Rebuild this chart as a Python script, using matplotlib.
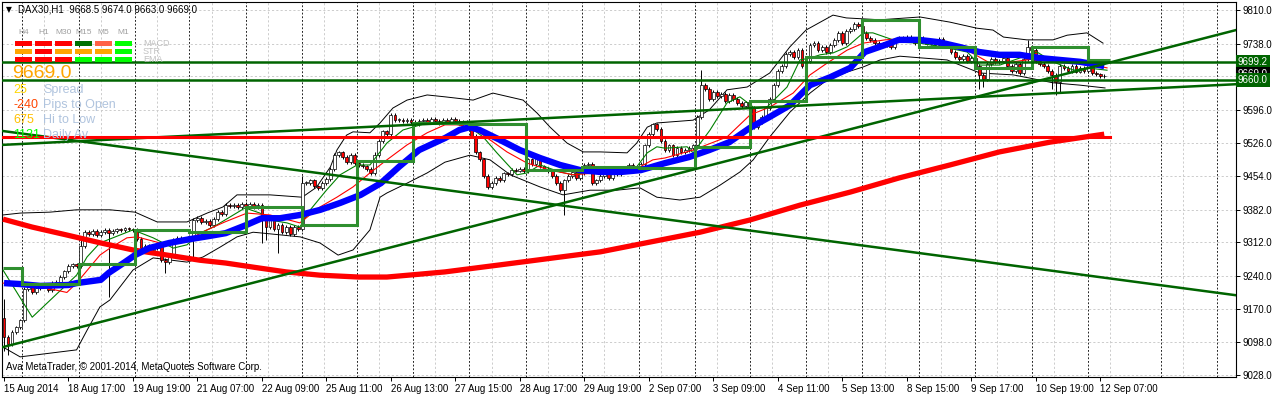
import matplotlib.pyplot as plt
from matplotlib.patches import Rectangle
from matplotlib.transforms import blended_transform_factory

plt.rcParams['font.family'] = ['Liberation Sans', 'DejaVu Sans']

# ---- H1 closes (bar 0 = 15 Aug 2014) ----
closes = [
    9110, 9095, 9120, 9130, 9145,
    9212, 9220, 9205, 9215, 9222, 9218, 9210, 9225,
    9228, 9238, 9250, 9262, 9265, 9262,
    9305, 9335,
    9330, 9336, 9328, 9334, 9338, 9332, 9336, 9340, 9338, 9342, 9340, 9338,
    9320, 9300, 9305, 9295, 9300, 9310, 9275, 9270, 9285, 9318,
    9322, 9320, 9318, 9325, 9360, 9365, 9355, 9358, 9350, 9362,
    9378, 9372, 9392, 9390, 9392, 9388, 9395, 9390, 9395, 9388, 9392,
    9365, 9345, 9360, 9340, 9350, 9335, 9345, 9330, 9345, 9340,
    9440, 9440, 9445, 9432, 9428, 9440, 9448,
    9470, 9500, 9505, 9495, 9485, 9500, 9482, 9478, 9475, 9470, 9460,
    9500, 9530, 9550, 9545, 9585, 9575, 9575,
    9572, 9575, 9570, 9566, 9572,
    9574, 9570, 9576, 9572, 9568, 9574, 9570, 9576, 9572, 9568, 9570, 9566,
    9540, 9505, 9490, 9455, 9430, 9440,
    9450, 9445, 9460, 9458, 9468, 9466, 9470, 9465,
    9490, 9480, 9495, 9475, 9470, 9465, 9455, 9440, 9425, 9445,
    9455, 9462, 9450, 9460, 9478, 9480, 9440, 9445,
    9455, 9460, 9450, 9462, 9458, 9465, 9470, 9478, 9468, 9475, 9480,
    9520, 9545, 9565, 9555, 9530, 9510, 9520, 9500, 9515,
    9505, 9510, 9515, 9520, 9580, 9650,
    9640, 9620, 9635, 9625, 9630, 9615, 9628, 9620,
    9610, 9605, 9612, 9600, 9560, 9570, 9580, 9600, 9620,
    9650, 9680, 9690, 9715, 9720, 9710, 9725, 9690, 9700,
    9735, 9740, 9725, 9730, 9720, 9735, 9745, 9760, 9740,
    9765, 9770, 9780, 9775, 9760, 9750, 9745,
    9740, 9738, 9735, 9740, 9730, 9745, 9750,
    9748, 9752, 9745, 9740, 9750,
    9745, 9738, 9742, 9735, 9748, 9740, 9736, 9720,
    9710, 9705, 9712, 9700, 9708, 9690, 9670, 9662,
    9695, 9705, 9698, 9700, 9708, 9690, 9680, 9695, 9675, 9705,
    9730, 9725, 9700, 9695, 9690, 9680, 9670, 9655, 9690,
    9685, 9680, 9690, 9678, 9685, 9680, 9700,
    9675, 9672, 9668.5, 9669,
]
first_open = 9150
wick_high = {0: 9190, 19: 9318, 74: 9455, 92: 9505, 173: 9682, 254: 9745}
wick_low = {0: 9080, 1: 9070, 26: 9195, 40: 9247, 47: 9280, 64: 9311,
            65: 9318, 68: 9290, 139: 9370, 172: 9512, 242: 9640, 243: 9645,
            260: 9640, 261: 9628, 262: 9635}
WICK = 4

# indicator lines, sampled as (bar, price)
blue_x = [0, 4, 9, 16, 18, 24, 26, 30, 32.5, 36, 41, 46, 51, 55, 60, 64, 68.5, 73.5, 78.5, 83.5,
          88.5, 93.5, 98, 103, 109.5, 113, 115.5, 118, 123, 128, 133, 138, 143, 148, 153, 158,
          164, 170, 175, 180, 185, 190, 195, 200, 205, 210, 213.6, 218.6, 222, 227, 232, 237,
          242, 247, 252, 257, 262, 267, 273]
blue_y = [9225, 9223, 9219, 9221, 9225, 9232, 9247, 9270, 9285, 9300, 9311, 9319, 9326, 9332,
          9349, 9364, 9364, 9371, 9382, 9397, 9414, 9439, 9474, 9510, 9536, 9553, 9559, 9553,
          9532, 9510, 9493, 9478, 9467, 9463, 9463, 9467, 9482, 9495, 9510, 9527, 9557, 9581,
          9606, 9649, 9666, 9686, 9720, 9735, 9746, 9746, 9741, 9731, 9720, 9714, 9714, 9707,
          9703, 9699, 9690]

red_x = [-0.25, 7, 15.6, 24, 32, 40.5, 48.6, 55, 62, 70, 78.4, 88, 95, 103, 109.4, 123, 148,
         172.7, 185, 197.5, 210, 222, 234.7, 247, 259.6, 273]
red_y = [9362, 9345, 9328, 9311, 9296, 9285, 9274, 9268, 9259, 9249, 9242, 9238, 9238, 9244,
         9249, 9264, 9292, 9334, 9360, 9392, 9420, 9450, 9478, 9506, 9527, 9544]

bbu_x = [-0.25, 4, 11.4, 18, 26.3, 32.5, 38, 45.4, 50.4, 54.3, 57.8, 66, 74, 77.5, 81, 82.6, 85,
         86.6, 90.8, 93.3, 96.5, 100, 105, 109.4, 116.4, 121.3, 128.8, 132.3, 135.5, 139.7,
         143.7, 148, 154.6, 157, 159.6, 162, 171, 175, 179.4, 184.4, 190, 195, 199, 205.7, 209,
         217.4, 227.3, 234.7, 241.4, 245.4, 248, 253.8, 260.3, 263.8, 268.7, 272.7]
bbu_y = [9371, 9375, 9377, 9382, 9382, 9377, 9356, 9356, 9375, 9388, 9414, 9414, 9409, 9430,
         9474, 9510, 9542, 9549, 9547, 9568, 9600, 9617, 9628, 9624, 9617, 9632, 9617, 9589,
         9559, 9525, 9506, 9506, 9504, 9525, 9559, 9568, 9574, 9596, 9639, 9645, 9675, 9731,
         9767, 9799, 9793, 9789, 9795, 9784, 9771, 9767, 9752, 9746, 9746, 9756, 9761, 9739]

bbl_x = [-0.25, 4, 18, 20.6, 23.8, 26.3, 32, 37, 45.4, 49.4, 53.6, 57.8, 61.8, 64.3, 73.5, 78.4,
         82.9, 86.6, 90.8, 93.3, 95, 100, 105, 109.4, 115.6, 120.6, 125.6, 133, 138.7, 145.4,
         152, 157.8, 162, 167.7, 172.7, 177.7, 182.6, 185.9, 190, 195, 200, 204.2, 209.2, 213.2,
         217.4, 222.3, 234, 242.2, 250.4, 254.6, 260.3, 267, 273.2]
bbl_y = [9088, 9067, 9082, 9124, 9174, 9189, 9253, 9279, 9270, 9281, 9302, 9324, 9334, 9332,
         9324, 9311, 9285, 9296, 9339, 9409, 9418, 9439, 9461, 9484, 9499, 9489, 9457, 9431,
         9414, 9424, 9424, 9429, 9409, 9403, 9409, 9435, 9463, 9489, 9538, 9591, 9632, 9660,
         9677, 9688, 9703, 9711, 9703, 9675, 9671, 9664, 9654, 9649, 9643]

tg_x = [-0.25, 7, 18, 20.6, 23.8, 32, 37, 42, 45.4, 48.6, 51.9, 54.8, 59.8, 63.5, 66, 70.2, 73.4,
        76, 80, 83.4, 87.6, 90.8, 95, 99, 105, 109.4, 115.6, 118.9, 122.3, 127.3, 129.8, 133,
        138, 141.2, 144.7, 149.6, 157, 159.6, 162, 164, 169.5, 171, 175.2, 179.4, 182.6, 185.9,
        189.3, 194.3, 197.5, 200, 202.5, 205.7, 209.2, 213.2, 215.6, 218.6, 222.3, 227.3, 234,
        239, 242.2, 247.1, 252, 256.3, 260.3, 265.4, 268.7, 273.7]
tg_y = [9253, 9152, 9242, 9281, 9311, 9339, 9322, 9300, 9307, 9332, 9345, 9360, 9386, 9375,
        9360, 9354, 9345, 9382, 9424, 9457, 9478, 9478, 9525, 9553, 9568, 9570, 9559, 9538,
        9504, 9457, 9461, 9478, 9463, 9457, 9463, 9463, 9474, 9504, 9517, 9514, 9517, 9504,
        9553, 9611, 9624, 9602, 9602, 9645, 9703, 9707, 9714, 9718, 9731, 9761, 9761, 9752,
        9741, 9739, 9729, 9720, 9692, 9692, 9707, 9720, 9699, 9681, 9686, 9681]

tr_x = [-0.25, 7, 15.6, 18, 23.8, 26.3, 30.5, 33, 38.7, 45.4, 50.4, 54.8, 60.3, 66, 73.4, 78.4,
        82.6, 86.6, 90.8, 95, 100, 105, 109.4, 113.2, 118.1, 124.8, 129.8, 135.5, 141.2, 147.1,
        152.9, 157.8, 161, 164, 171, 179.4, 185.1, 190, 195.8, 200, 204.2, 209.2, 213.2, 218.6,
        225.6, 234, 239, 244.7, 250.4, 257.1, 263.8, 270.2, 273.7]
tr_y = [9225, 9221, 9205, 9225, 9285, 9300, 9322, 9324, 9311, 9317, 9339, 9356, 9375, 9371,
        9354, 9388, 9409, 9431, 9461, 9489, 9521, 9547, 9564, 9564, 9547, 9506, 9482, 9467,
        9457, 9461, 9461, 9474, 9489, 9493, 9510, 9538, 9585, 9602, 9632, 9671, 9696, 9724,
        9739, 9746, 9750, 9739, 9724, 9696, 9699, 9707, 9699, 9692, 9686]

# previous-day close steps and day separators (bar index)
day_breaks = [4.5, 18.5, 32.5, 46, 60, 74, 87.5, 101.5, 115.5, 129.5, 143.5, 157.5, 171.5,
              185, 199, 213, 227, 241, 255, 269, 287, 301]
step_levels = [9258, 9223, 9266, 9339, 9335, 9388, 9350, 9487, 9568, 9566, 9467, 9473, 9472,
               9517, 9615, 9710, 9789, 9731, 9686, 9731, 9703]

# drawn objects
trend_up = ([-0.25, 305.7], [9088, 9767])
trend_down = ([-0.5, 305.7], [9551, 9199])
trend_flat = ([-0.5, 305.7], [9521, 9651])
h_levels = [9699.2, 9660.0]
red_level = 9538

yticks = [9028, 9098, 9170, 9240, 9312, 9382, 9454, 9526, 9596, 9668, 9738, 9810]
xtick_bars = [16 * k for k in range(18)]
xtick_labels = ["15 Aug 2014", "18 Aug 17:00", "19 Aug 19:00", "21 Aug 07:00", "22 Aug 09:00",
                "25 Aug 11:00", "26 Aug 13:00", "27 Aug 15:00", "28 Aug 17:00", "29 Aug 19:00",
                "2 Sep 07:00", "3 Sep 09:00", "4 Sep 11:00", "5 Sep 13:00", "8 Sep 15:00",
                "9 Sep 17:00", "10 Sep 19:00", "12 Sep 07:00"]

W, H = 1276, 395
fig = plt.figure(figsize=(W / 100, H / 100), dpi=100)
ax = fig.add_axes([2 / W, 18 / H, 1234 / W, 375 / H])
ax.set_xlim(-0.5, 305.7)
ax.set_ylim(9023.9, 9827.1)

# grid
dash = (0, (2.2, 2.2))
for p in yticks:
    ax.axhline(p, color='#cccccc', lw=0.7, ls=dash, zorder=0)
for b in day_breaks:
    ax.axvline(b, color='black', lw=0.6, ls=dash, zorder=0.5)
    ax.axvline(b + 5.5, color='#cccccc', lw=0.7, ls=dash, zorder=0)

# Bollinger bands
ax.plot(bbu_x, bbu_y, color='black', lw=0.7, zorder=2)
ax.plot(bbl_x, bbl_y, color='black', lw=0.7, zorder=2)

# candles
opens = [first_open] + closes[:-1]
for i, (o, c) in enumerate(zip(opens, closes)):
    hi = wick_high.get(i, max(o, c) + WICK)
    lo = wick_low.get(i, min(o, c) - WICK)
    ax.vlines(i, lo, hi, color='black', lw=0.7, zorder=3)
    ax.bar(i, abs(c - o) if c != o else 0.8, bottom=min(o, c), width=0.7,
           color='white' if c >= o else '#ff0000', edgecolor='black', lw=0.5, zorder=3.5)

# moving averages
ax.plot(tg_x, tg_y, color='#008000', lw=0.8, zorder=4)
ax.plot(tr_x, tr_y, color='#ff0000', lw=0.8, zorder=4)
ax.plot(red_x, red_y, color='#ff0000', lw=3.8, zorder=5, solid_capstyle='butt')
ax.plot(blue_x, blue_y, color='#0000ff', lw=4.6, zorder=6, solid_capstyle='butt')

edges = [-0.25] + day_breaks[:20] + [274.5]
ax.stairs(step_levels, edges, baseline=None, color='#2f8f2f', lw=2.2, zorder=7)

# trend lines and levels
for xs, ys in (trend_up, trend_down, trend_flat):
    ax.plot(xs, ys, color='#006400', lw=1.8, zorder=8)
for p in h_levels:
    ax.axhline(p, color='#006400', lw=1.8, zorder=8)
ax.plot([-0.5, 274.5], [red_level, red_level], color='#ff0000', lw=2.2, zorder=8)

# axes styling
for s in ax.spines.values():
    s.set_color('black')
    s.set_linewidth(0.8)
ax.yaxis.tick_right()
ax.set_yticks(yticks)
# the 9668 label is hidden behind the price boxes in the terminal
ax.set_yticklabels(["" if v == 9668 else f"{v:.1f}" for v in yticks])
ax.set_xticks(xtick_bars)
ax.set_xticklabels(xtick_labels, ha='left')
ax.tick_params(axis='both', labelsize=7, length=3, width=0.7, pad=2, colors='black')

# price boxes on the right scale
trans = blended_transform_factory(ax.transAxes, ax.transData)
box = dict(boxstyle='square,pad=0.2', ec='none')
ax.text(1.0015, 9699.2, "9699.2", transform=trans, ha='left', va='center', fontsize=7,
        color='white', bbox=dict(box, fc='#006400'), clip_on=False, zorder=20)
ax.text(1.0015, 9673, "9669.0", transform=trans, ha='left', va='center', fontsize=7,
        color='white', bbox=dict(box, fc='black'), clip_on=False, zorder=21)
ax.text(1.0015, 9660.0, "9660.0", transform=trans, ha='left', va='center', fontsize=7,
        color='white', bbox=dict(box, fc='#006400'), clip_on=False, zorder=22)

# overlay in pixel coordinates for the on-chart panel texts
ov = fig.add_axes([0, 0, 1, 1])
ov.set_xlim(0, W)
ov.set_ylim(H, 0)
ov.axis('off')
ov.patch.set_alpha(0)

ov.text(6, 10, "▼", fontsize=5.5, va='center', ha='left', family=['DejaVu Sans'])
ov.text(18, 10, "DAX30,H1  9668.5 9674.0 9663.0 9669.0", fontsize=7, va='center', ha='left')

tf_labels = ["H4", "H1", "M30", "M15", "M5", "M1"]
tf_x = [15, 35, 55, 75, 95, 115]
panel_rows = ["MACD", "STR", "EMA"]
panel_colors = [
    ['#ff0000', '#ff0000', '#ff0000', '#007000', '#ff6347', '#00ff00'],
    ['#ffa500', '#ff0000', '#ffa500', '#ffa500', '#ffa500', '#00ff00'],
    ['#ff0000', '#ff0000', '#ff0000', '#00ff00', '#00ff00', '#00ff00'],
]
row_y = [41, 49, 57]
for j, lab in enumerate(tf_labels):
    ov.text(tf_x[j] + 8.5, 33, lab, fontsize=6, color='#a0a0a0', ha='center', va='center')
for r, cols in enumerate(panel_colors):
    for j, c in enumerate(cols):
        ov.add_patch(Rectangle((tf_x[j], row_y[r]), 17, 5, fc=c, ec='none'))
    ov.text(143, row_y[r] + 2.5, panel_rows[r], fontsize=6.5, color='#c0c0c0', va='center')

ov.text(12, 74, "9669.0", fontsize=14, color='#ffa500', va='center', ha='left')
info_vals = ["25", "-240", "675", "1131"]
info_cols = ['#ffd700', '#ff4500', '#ffc000', '#00ff00']
info_labels = ["Spread", "Pips to Open", "Hi to Low", "Daily Av"]
for k, yy in enumerate([90, 105, 120, 135]):
    ov.text(13, yy, info_vals[k], fontsize=9, color=info_cols[k], va='center')
    ov.text(43, yy, info_labels[k], fontsize=9, color='#b0c4de', va='center')

ov.text(6, 367, "Ava MetaTrader, © 2001-2014, MetaQuotes Software Corp.", fontsize=7,
        va='center', ha='left')

fig.savefig('out.png', dpi=100, facecolor='white')
